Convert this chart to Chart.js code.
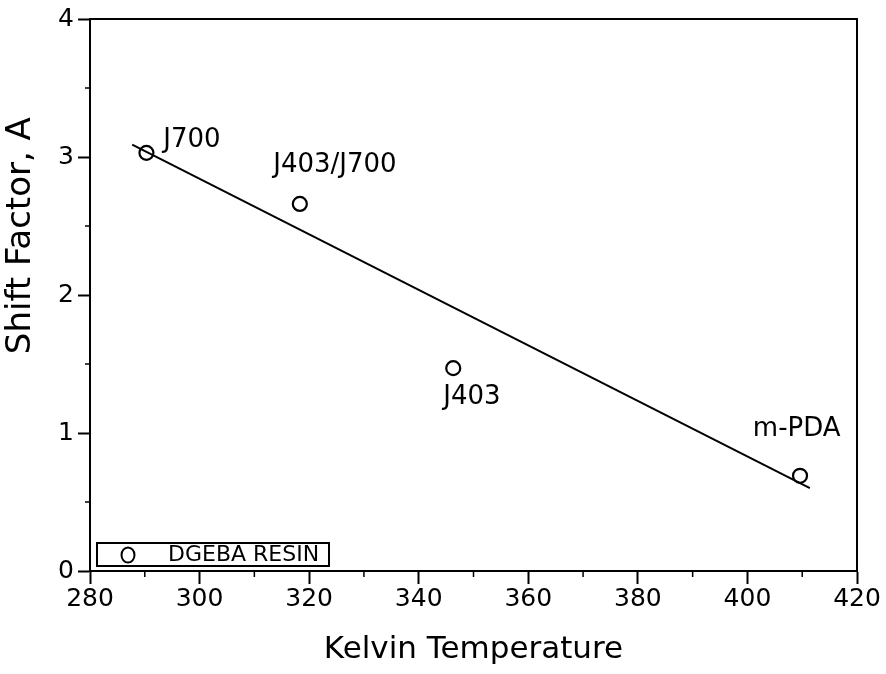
<!DOCTYPE html>
<html>
<head>
<meta charset="utf-8">
<script src="https://cdn.jsdelivr.net/npm/chart.js@4.4.1/dist/chart.umd.min.js"></script>
<style>
  html, body { margin: 0; padding: 0; background: #fff; }
  #wrap { width: 886px; height: 674px; }
</style>
</head>
<body>
<div id="wrap"><canvas id="chart"></canvas></div>
<script>
// Dữ liệu
const tempK = [290.3, 318.3, 346.3, 409.6];
const shiftA = [3.03, 2.66, 1.47, 0.69];
const pointNames = ['J700', 'J403/J700', 'J403', 'm-PDA'];
const nameX = [298.6, 324.7, 349.7, 409.0]; // vị trí nhãn (đơn vị dữ liệu)
const nameY = [3.12, 2.94, 1.26, 1.03];
const fitX = [287.7, 411.4]; // đường hồi quy
const fitY = [3.09, 0.60];
const xTicks = [280, 300, 320, 340, 360, 380, 400, 420];
const yTicks = [0, 1, 2, 3, 4];
const xMinor = [290, 310, 330, 350, 370, 390, 410];
const yMinor = [0.5, 1.5, 2.5, 3.5];

Chart.defaults.font.family = '"DejaVu Sans", sans-serif';
Chart.defaults.color = '#000';

let decor = {
    id: 'decor',
    afterDraw(chart) {
        const {ctx, chartArea: a, scales: {x, y}} = chart;
        ctx.save();
        ctx.strokeStyle = '#000';
        ctx.fillStyle = '#000';
        // khung trên + phải
        ctx.lineWidth = 2;
        ctx.beginPath();
        ctx.moveTo(a.left, a.top);
        ctx.lineTo(a.right, a.top);
        ctx.lineTo(a.right, a.bottom);
        ctx.stroke();
        // vạch phụ
        ctx.lineWidth = 1.5;
        ctx.beginPath();
        xMinor.forEach(v => {
            const px = x.getPixelForValue(v);
            ctx.moveTo(px, a.bottom);
            ctx.lineTo(px, a.bottom + 6);
        });
        yMinor.forEach(v => {
            const py = y.getPixelForValue(v);
            ctx.moveTo(a.left, py);
            ctx.lineTo(a.left - 5, py);
        });
        ctx.stroke();
        // nhãn điểm
        ctx.font = '26px "DejaVu Sans"';
        ctx.textAlign = 'center';
        ctx.textBaseline = 'middle';
        pointNames.forEach((t, i) => {
            ctx.fillText(t, x.getPixelForValue(nameX[i]), y.getPixelForValue(nameY[i]));
        });
        // tiêu đề trục y
        ctx.save();
        ctx.font = '34px "DejaVu Sans"';
        ctx.translate(21, y.getPixelForValue(2.43));
        ctx.rotate(-Math.PI / 2);
        ctx.fillText('Shift Factor, A', 0, 0);
        ctx.restore();
        // chú thích
        const bx = a.left + 7, by = a.bottom - 28;
        ctx.lineWidth = 2;
        ctx.strokeRect(bx, by, 232, 23);
        ctx.beginPath();
        ctx.ellipse(a.left + 38, by + 12, 6.5, 7.5, 0, 0, Math.PI * 2);
        ctx.stroke();
        ctx.font = '22px "DejaVu Sans"';
        ctx.textAlign = 'left';
        ctx.fillText(chart.data.datasets[0].label, a.left + 78, by + 12);
        ctx.restore();
    }
};

new Chart(document.getElementById('chart'), {
    type: 'scatter',
    data: {
        datasets: [{
            label: 'DGEBA RESIN',
            data: tempK.map((v, i) => ({x: v, y: shiftA[i]})),
            pointRadius: 7,
            pointBorderWidth: 2.2,
            borderColor: '#000',
            backgroundColor: 'rgba(0,0,0,0)',
            showLine: false
        }, {
            label: 'fit',
            data: fitX.map((v, i) => ({x: v, y: fitY[i]})),
            showLine: true,
            pointRadius: 0,
            borderWidth: 2,
            borderColor: '#000',
            fill: false
        }]
    },
    options: {
        responsive: true,
        maintainAspectRatio: false,
        animation: false,
        layout: {padding: {top: 16, right: 29, left: 0, bottom: 0}},
        plugins: {legend: {display: false}, tooltip: {enabled: false}},
        scales: {
            x: {
                type: 'linear',
                min: 280, max: 420,
                afterBuildTicks: s => { s.ticks = xTicks.map(v => ({value: v})); },
                afterFit: s => { s.height = 103; },
                ticks: {font: {size: 25}, padding: 0, maxRotation: 0, autoSkip: false},
                grid: {drawOnChartArea: false, tickLength: 13, tickWidth: 2, tickColor: '#000'},
                border: {color: '#000', width: 2},
                title: {display: true, text: 'Kelvin Temperature', font: {size: 31}, padding: {top: 0, bottom: 5}}
            },
            y: {
                min: 0, max: 4,
                afterBuildTicks: s => { s.ticks = yTicks.map(v => ({value: v})); },
                afterFit: s => { s.width = 90; },
                ticks: {font: {size: 25}, padding: 4},
                grid: {drawOnChartArea: false, tickLength: 12, tickWidth: 2, tickColor: '#000'},
                border: {color: '#000', width: 2}
            }
        }
    },
    plugins: [decor]
});
</script>
</body>
</html>
